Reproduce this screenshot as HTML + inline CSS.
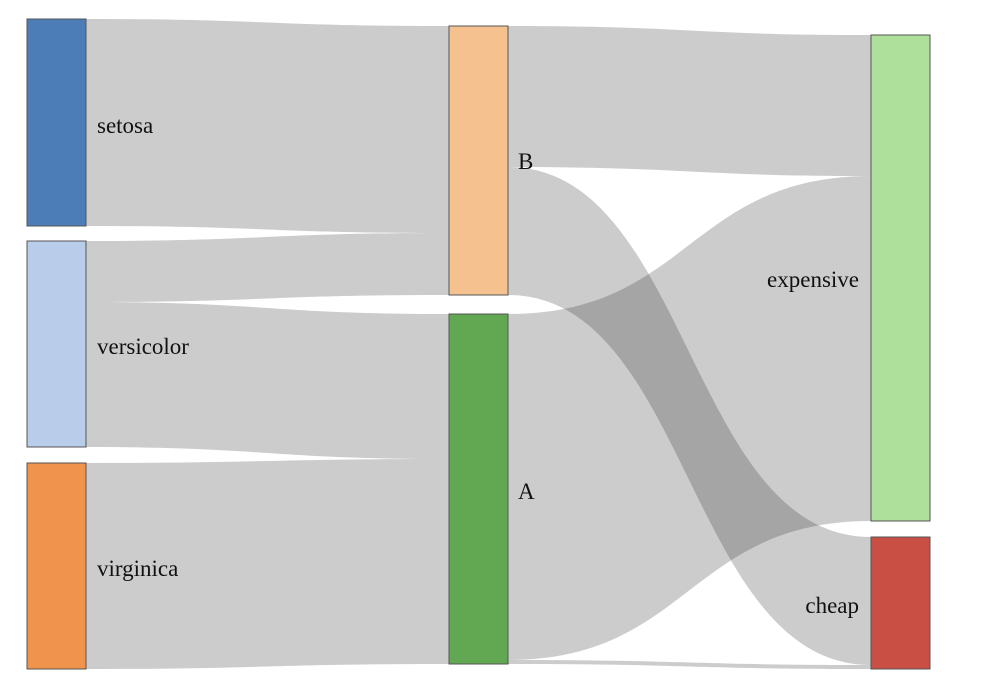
<!DOCTYPE html>
<html><head><meta charset="utf-8"><style>
html,body{margin:0;padding:0;background:#fff;}
svg{display:block;}
text{font-family:"Liberation Serif",serif;font-size:23px;fill:#111;}
</style></head><body>
<svg width="994" height="698" viewBox="0 0 994 698">
<g fill="rgb(38,38,38)" fill-opacity="0.235">
<path d="M86,19 C267,19 267,26 449,26 L449,233 C267,233 267,226 86,226 Z"/>
<path d="M86,241 C267,241 267,233 449,233 L449,295 C267,295 267,302 86,302 Z"/>
<path d="M86,302 C267,302 267,314 449,314 L449,459 C267,459 267,447 86,447 Z"/>
<path d="M86,463 C267,463 267,459 449,459 L449,664 C267,664 267,669 86,669 Z"/>
<path d="M508,26 C689,26 689,35 871,35 L871,176 C689,176 689,167 508,167 Z"/>
<path d="M508,167 C689,167 689,537 871,537 L871,665 C689,665 689,295 508,295 Z"/>
<path d="M508,314 C689,314 689,176 871,176 L871,521 C689,521 689,660 508,660 Z"/>
<path d="M508,660 C689,660 689,665 871,665 L871,669 C689,669 689,664 508,664 Z"/>
</g>
<g stroke="#555" stroke-width="1">
<rect x="27" y="19" width="59" height="207" fill="#4c7db6"/>
<rect x="27" y="241" width="59" height="206" fill="#b9cce9"/>
<rect x="27" y="463" width="59" height="206" fill="#f0944d"/>
<rect x="449" y="26" width="59" height="269" fill="#f5c28f"/>
<rect x="449" y="314" width="59" height="350" fill="#62a852"/>
<rect x="871" y="35" width="59" height="486" fill="#aedf9b"/>
<rect x="871" y="537" width="59" height="132" fill="#c94f45"/>
</g>
<text x="97" y="133">setosa</text>
<text x="97" y="354">versicolor</text>
<text x="97" y="576">virginica</text>
<text x="518" y="169">B</text>
<text x="518" y="499">A</text>
<text x="859" y="287" text-anchor="end">expensive</text>
<text x="859" y="613" text-anchor="end">cheap</text>
</svg>
</body></html>
